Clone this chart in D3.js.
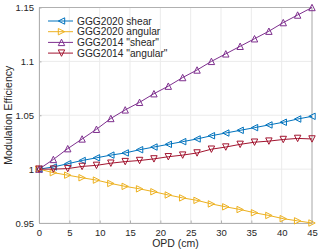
<!DOCTYPE html>
<html>
<head>
<meta charset="utf-8">
<script src="https://cdn.jsdelivr.net/npm/d3@7"></script>
<style>
  body { margin: 0; background: #fff; }
  text { font-family: "Liberation Sans", Arial, sans-serif; fill: #262626; }
</style>
</head>
<body>
<div id="chart"></div>
<script>
// OPD sample positions (cm), 20 points from 0 to 45
const opd = d3.range(20).map(i => i * 45 / 19);

const shear2020 = [1.000, 1.002, 1.005, 1.008, 1.0105, 1.013, 1.015, 1.018, 1.0205, 1.023,
                   1.0255, 1.028, 1.031, 1.0335, 1.036, 1.0385, 1.041, 1.0435, 1.0465, 1.049];
const angular2020 = [1.000, 0.9967, 0.9944, 0.992, 0.9898, 0.9867, 0.984, 0.9817, 0.979, 0.976,
                     0.9733, 0.971, 0.9677, 0.965, 0.9625, 0.9595, 0.957, 0.954, 0.952, 0.950];
const shear2014 = [1.000, 1.009, 1.019, 1.028, 1.037, 1.047, 1.055, 1.062, 1.070, 1.077,
                   1.085, 1.092, 1.100, 1.107, 1.114, 1.121, 1.128, 1.136, 1.143, 1.150];
const angular2014 = [1.000, 1.000, 1.0005, 1.0025, 1.0035, 1.0055, 1.007, 1.008, 1.0095, 1.0115,
                     1.013, 1.015, 1.0185, 1.0205, 1.023, 1.025, 1.026, 1.0275, 1.0285, 1.028];

const xTicks = [0, 5, 10, 15, 20, 25, 30, 35, 40, 45];
const yTicks = [0.95, 1, 1.05, 1.1, 1.15];

const series = [
  { name: "GGG2020 shear", values: shear2020, color: "#0072BD", marker: "left" },
  { name: "GGG2020 angular", values: angular2020, color: "#EDB120", marker: "right" },
  { name: "GGG2014 \"shear\"", values: shear2014, color: "#7E2F8E", marker: "up" },
  { name: "GGG2014 \"angular\"", values: angular2014, color: "#A2142F", marker: "down" }
];

const width = 320, height = 252;
const margin = { top: 7.5, right: 8, bottom: 29, left: 39 };

const svg = d3.select("#chart").append("svg")
    .attr("width", width)
    .attr("height", height);

const x = d3.scaleLinear().domain([0, 45]).range([margin.left, width - margin.right]);
const y = d3.scaleLinear().domain([0.95, 1.15]).range([height - margin.bottom, margin.top]);

// grid
const grid = svg.append("g").attr("stroke", "#ebebeb").attr("stroke-width", 1);
xTicks.forEach(t => grid.append("line")
    .attr("x1", x(t)).attr("x2", x(t)).attr("y1", y(0.95)).attr("y2", y(1.15)));
yTicks.forEach(t => grid.append("line")
    .attr("y1", y(t)).attr("y2", y(t)).attr("x1", x(0)).attr("x2", x(45)));

// axes
const xAxis = svg.append("g")
    .attr("transform", `translate(0,${y(0.95)})`)
    .call(d3.axisBottom(x).tickValues(xTicks).tickSizeInner(-2.5).tickSizeOuter(0).tickPadding(6));
const yAxis = svg.append("g")
    .attr("transform", `translate(${x(0)},0)`)
    .call(d3.axisLeft(y).tickValues(yTicks).tickFormat(d3.format("")).tickSizeInner(-2.5).tickSizeOuter(0).tickPadding(5));
[xAxis, yAxis].forEach(a => {
  a.select(".domain").attr("stroke", "#b0b0b0");
  a.selectAll(".tick line").attr("stroke", "#b0b0b0");
  a.selectAll(".tick text").style("font-size", "9.5px").attr("fill", "#262626");
});

// top and right borders
svg.append("line").attr("x1", x(0)).attr("x2", x(45)).attr("y1", y(1.15)).attr("y2", y(1.15))
    .attr("stroke", "#b0b0b0");
svg.append("line").attr("x1", x(45)).attr("x2", x(45)).attr("y1", y(0.95)).attr("y2", y(1.15))
    .attr("stroke", "#b0b0b0");

// axis labels
svg.append("text")
    .attr("x", (x(0) + x(45)) / 2).attr("y", 247)
    .attr("text-anchor", "middle")
    .style("font-size", "10.5px")
    .text("OPD (cm)");
svg.append("text")
    .attr("transform", `translate(12,${(y(0.95) + y(1.15)) / 2}) rotate(-90)`)
    .attr("text-anchor", "middle")
    .style("font-size", "10.5px")
    .text("Modulation Efficiency");

function markerPath(kind, s) {
  // triangle with half-size s
  switch (kind) {
    case "left": return `M${-s},0L${s},${-s}L${s},${s}Z`;
    case "right": return `M${s},0L${-s},${-s}L${-s},${s}Z`;
    case "up": return `M0,${-s}L${s},${s}L${-s},${s}Z`;
    case "down": return `M0,${s}L${s},${-s}L${-s},${-s}Z`;
  }
}

const line = d3.line().x((d, i) => x(opd[i])).y(d => y(d));

series.forEach(s => {
  const g = svg.append("g");
  g.append("path")
      .datum(s.values)
      .attr("fill", "none")
      .attr("stroke", s.color)
      .attr("stroke-width", 1)
      .attr("d", line);
  g.selectAll("path.m")
      .data(s.values)
      .enter().append("path")
      .attr("class", "m")
      .attr("transform", (d, i) => `translate(${x(opd[i])},${y(d)})`)
      .attr("d", markerPath(s.marker, 3.2))
      .attr("fill", "none")
      .attr("stroke", s.color)
      .attr("stroke-width", 1);
});

// legend
const legend = svg.append("g");
series.forEach((s, i) => {
  const ly = 21 + i * 10.7;
  legend.append("line")
      .attr("x1", 48).attr("x2", 73).attr("y1", ly).attr("y2", ly)
      .attr("stroke", s.color).attr("stroke-width", 1);
  legend.append("path")
      .attr("transform", `translate(61.5,${ly})`)
      .attr("d", markerPath(s.marker, 3.2))
      .attr("fill", "none")
      .attr("stroke", s.color)
      .attr("stroke-width", 1);
  legend.append("text")
      .attr("x", 77).attr("y", ly)
      .attr("dy", "0.35em")
      .style("font-size", "10.2px")
      .text(s.name);
});
</script>
</body>
</html>
